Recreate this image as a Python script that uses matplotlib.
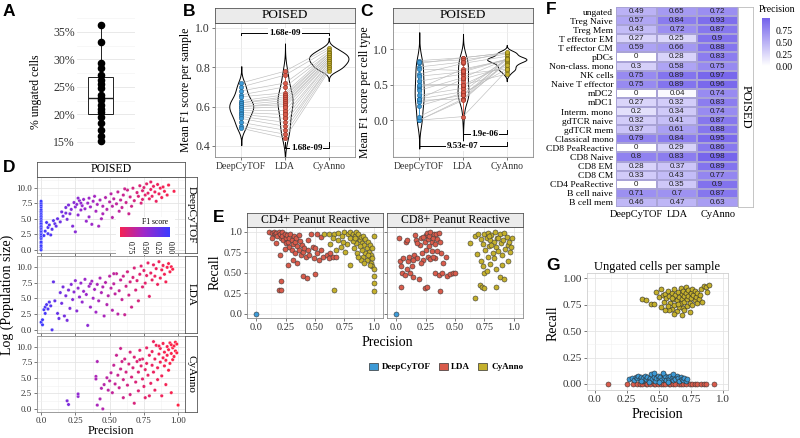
import numpy as np
import matplotlib
matplotlib.use("Agg")
import matplotlib.pyplot as plt
from matplotlib.colors import LinearSegmentedColormap
from matplotlib.patches import Patch
from matplotlib.ticker import MultipleLocator

plt.rcParams['font.family'] = ['Liberation Serif', 'DejaVu Serif']
plt.rcParams['axes.linewidth'] = 0.5

W, H = 800, 438

# ---------------- data ----------------
methods = ['DeepCyTOF', 'LDA', 'CyAnno']
method_colors = ['#3D9AD6', '#D95B4B', '#C4B02C']
method_edges = ['#1F5F8A', '#8A2E22', '#6E6210']

# A: % ungated cells per sample
ungated_pct = [36.3, 33.2, 29.3, 28.4, 27.2, 26.3, 25.5, 24.8, 23.5, 23.0,
               22.6, 21.7, 21.0, 20.5, 19.5, 18.4, 17.2, 16.0, 15.1]

# B: mean F1 per sample (paired by sample)
f1_sample_deep = [0.72, 0.70, 0.68, 0.66, 0.65, 0.63, 0.62, 0.62, 0.61, 0.60,
                  0.60, 0.59, 0.58, 0.57, 0.56, 0.55, 0.54, 0.52, 0.50, 0.49]
f1_sample_lda = [0.78, 0.76, 0.72, 0.70, 0.67, 0.66, 0.65, 0.64, 0.63, 0.62,
                 0.61, 0.60, 0.58, 0.56, 0.54, 0.52, 0.50, 0.48, 0.46, 0.44]
f1_sample_cyanno = [0.90, 0.89, 0.88, 0.87, 0.87, 0.86, 0.86, 0.85, 0.85, 0.84,
                    0.84, 0.83, 0.83, 0.82, 0.82, 0.81, 0.80, 0.80, 0.79, 0.78]

# C: mean F1 per cell type (paired by cell type)
f1_cell_deep = [0.55, 0.65, 0.45, 0.28, 0.62, 0.0, 0.30, 0.80, 0.84, 0.0, 0.25,
                0.20, 0.35, 0.42, 0.82, 0.0, 0.75, 0.30, 0.48, 0.05, 0.72, 0.50]
f1_cell_lda = [0.65, 0.80, 0.72, 0.30, 0.68, 0.30, 0.58, 0.88, 0.88, 0.05, 0.35,
               0.38, 0.45, 0.60, 0.85, 0.28, 0.82, 0.40, 0.50, 0.35, 0.70, 0.50]
f1_cell_cyanno = [0.72, 0.90, 0.85, 0.88, 0.86, 0.80, 0.75, 0.95, 0.95, 0.70, 0.80,
                  0.72, 0.85, 0.86, 0.93, 0.82, 0.96, 0.87, 0.78, 0.85, 0.86, 0.65]

pval_b_top, pval_b_bottom = '1.68e-09', '1.68e-09'
pval_c_top, pval_c_bottom = '1.9e-06', '9.53e-07'

# D: (precision, log population size, F1) per population
d_deep_zero_y = [0.0, 0.4, 0.7, 1.1, 1.3, 1.8, 2.0, 2.3, 2.6, 2.9, 3.1, 3.4, 3.6, 3.8,
                 4.1, 4.3, 4.6, 4.9, 5.2, 5.4, 5.7, 6.0, 6.2, 6.5, 6.9, 7.2, 7.5, 7.8]
d_deep = [(0.02, 2.3, 0.04), (0.03, 3.0, 0.05), (0.04, 4.4, 0.08), (0.05, 2.6, 0.09), (0.05, 3.6, 0.1),
          (0.06, 4.0, 0.11), (0.07, 2.4, 0.12), (0.08, 3.3, 0.14), (0.09, 4.7, 0.16), (0.10, 4.2, 0.18),
          (0.11, 3.8, 0.2), (0.12, 5.0, 0.22), (0.14, 4.5, 0.25), (0.15, 6.1, 0.27), (0.16, 5.4, 0.28),
          (0.18, 6.8, 0.3), (0.19, 4.9, 0.31), (0.20, 7.2, 0.33), (0.21, 5.8, 0.34), (0.22, 6.5, 0.35),
          (0.23, 3.8, 0.35), (0.24, 7.6, 0.38), (0.25, 6.9, 0.39), (0.25, 2.9, 0.38), (0.26, 7.3, 0.4),
          (0.27, 5.6, 0.41), (0.28, 7.9, 0.42), (0.29, 6.4, 0.43), (0.30, 7.1, 0.44), (0.31, 8.1, 0.46),
          (0.32, 6.6, 0.46), (0.33, 4.6, 0.45), (0.34, 7.5, 0.48), (0.35, 8.3, 0.49), (0.36, 6.9, 0.5),
          (0.37, 4.1, 0.48), (0.38, 7.8, 0.52), (0.40, 6.2, 0.53), (0.41, 7.3, 0.55), (0.42, 3.8, 0.52),
          (0.43, 8.0, 0.56), (0.44, 5.0, 0.55), (0.45, 7.0, 0.58), (0.47, 8.4, 0.6), (0.48, 6.5, 0.6),
          (0.50, 7.7, 0.62), (0.51, 9.0, 0.63), (0.52, 5.2, 0.62), (0.53, 8.2, 0.65), (0.55, 7.4, 0.66),
          (0.56, 9.3, 0.68), (0.58, 8.0, 0.69), (0.59, 6.8, 0.69), (0.60, 8.8, 0.71), (0.62, 7.6, 0.72),
          (0.63, 9.6, 0.74), (0.64, 5.8, 0.72), (0.65, 8.5, 0.75), (0.67, 9.9, 0.77), (0.68, 7.9, 0.77),
          (0.70, 9.2, 0.79), (0.71, 8.6, 0.8), (0.72, 10.3, 0.81), (0.73, 7.5, 0.8), (0.74, 9.5, 0.82),
          (0.75, 10.0, 0.83), (0.76, 8.8, 0.84), (0.77, 10.6, 0.85), (0.78, 9.1, 0.85), (0.79, 8.2, 0.86),
          (0.80, 10.9, 0.87), (0.80, 9.7, 0.88), (0.81, 8.6, 0.88), (0.82, 10.2, 0.89), (0.83, 9.3, 0.9),
          (0.84, 7.8, 0.89), (0.85, 10.5, 0.91), (0.86, 9.0, 0.91), (0.87, 9.9, 0.92), (0.88, 8.4, 0.92),
          (0.89, 10.1, 0.93), (0.90, 9.4, 0.94), (0.92, 8.8, 0.94), (0.93, 10.4, 0.95), (0.97, 9.4, 0.96),
          (0.45, 5.8, 0.56), (0.35, 5.3, 0.46), (0.57, 6.2, 0.66), (0.66, 7.0, 0.74), (0.29, 7.5, 0.43),
          (0.39, 8.6, 0.52), (0.61, 9.8, 0.72), (0.52, 7.0, 0.63), (0.18, 5.9, 0.3), (0.27, 8.3, 0.41),
          (0.74, 8.1, 0.81)]
d_lda = [(0.00, 1.2, 0.02), (0.01, 0.8, 0.03), (0.01, 1.6, 0.04), (0.02, 3.2, 0.06), (0.03, 3.6, 0.08),
         (0.03, 2.6, 0.07), (0.04, 4.0, 0.1), (0.05, 3.3, 0.11), (0.06, 4.4, 0.13), (0.07, 3.8, 0.14),
         (0.08, 0.0, 0.12), (0.09, 7.6, 0.2), (0.10, 4.6, 0.2), (0.12, 2.6, 0.21), (0.13, 1.8, 0.22),
         (0.14, 5.9, 0.26), (0.15, 4.2, 0.26), (0.16, 6.8, 0.3), (0.17, 2.2, 0.28), (0.18, 5.4, 0.31),
         (0.19, 1.5, 0.3), (0.20, 6.3, 0.33), (0.21, 3.4, 0.33), (0.22, 7.2, 0.36), (0.23, 4.8, 0.36),
         (0.24, 6.0, 0.38), (0.25, 7.8, 0.4), (0.26, 3.0, 0.38), (0.27, 6.6, 0.42), (0.28, 5.2, 0.42),
         (0.29, 7.4, 0.44), (0.30, 4.4, 0.43), (0.31, 6.1, 0.46), (0.32, 8.0, 0.48), (0.33, 5.6, 0.47),
         (0.34, 0.7, 0.4), (0.35, 6.9, 0.5), (0.36, 3.6, 0.48), (0.37, 7.7, 0.52), (0.38, 5.0, 0.51),
         (0.39, 6.4, 0.53), (0.40, 2.8, 0.5), (0.41, 7.2, 0.55), (0.42, 4.6, 0.54), (0.43, 8.2, 0.57),
         (0.44, 5.9, 0.57), (0.45, 6.8, 0.59), (0.46, 2.2, 0.55), (0.47, 7.5, 0.61), (0.48, 4.0, 0.59),
         (0.49, 5.4, 0.61), (0.50, 8.5, 0.64), (0.51, 6.6, 0.64), (0.52, 3.1, 0.6), (0.53, 7.3, 0.66),
         (0.54, 5.7, 0.66), (0.55, 8.9, 0.69), (0.56, 2.5, 0.63), (0.57, 6.2, 0.69), (0.58, 7.9, 0.71),
         (0.59, 4.8, 0.69), (0.60, 8.5, 0.73), (0.62, 6.9, 0.74), (0.63, 9.2, 0.76), (0.64, 5.5, 0.74),
         (0.65, 7.6, 0.77), (0.66, 3.6, 0.74), (0.67, 8.3, 0.79), (0.68, 9.8, 0.8), (0.69, 6.3, 0.79),
         (0.70, 7.8, 0.81), (0.72, 8.8, 0.83), (0.73, 10.1, 0.84), (0.74, 6.8, 0.83), (0.75, 9.4, 0.85),
         (0.76, 7.4, 0.85), (0.77, 8.6, 0.86), (0.78, 10.6, 0.87), (0.79, 5.3, 0.85), (0.80, 9.0, 0.88),
         (0.81, 7.9, 0.88), (0.82, 10.3, 0.89), (0.83, 8.5, 0.9), (0.84, 9.7, 0.9), (0.85, 7.2, 0.9),
         (0.86, 10.8, 0.92), (0.87, 8.2, 0.92), (0.88, 9.5, 0.93), (0.89, 10.2, 0.93), (0.90, 8.8, 0.94),
         (0.91, 7.6, 0.94), (0.92, 9.9, 0.95), (0.93, 10.5, 0.95), (0.94, 9.2, 0.96), (0.95, 10.0, 0.96),
         (0.96, 9.6, 0.97), (0.71, 4.6, 0.78), (0.61, 2.4, 0.7), (0.53, 8.9, 0.66), (0.36, 7.3, 0.5)]
d_cyanno = [(0.19, 1.3, 0.33), (0.20, 0.7, 0.33), (0.27, 2.0, 0.42), (0.27, 2.4, 0.42), (0.40, 5.2, 0.56),
            (0.40, 4.8, 0.56), (0.41, 7.6, 0.57), (0.41, 0.6, 0.55), (0.43, 1.6, 0.58), (0.45, 0.0, 0.6),
            (0.44, 3.3, 0.59), (0.46, 3.9, 0.62), (0.48, 5.0, 0.64), (0.49, 3.0, 0.64), (0.50, 4.5, 0.66),
            (0.51, 5.8, 0.67), (0.52, 2.6, 0.67), (0.53, 7.0, 0.69), (0.54, 4.0, 0.69), (0.55, 8.6, 0.71),
            (0.56, 5.4, 0.71), (0.57, 3.4, 0.71), (0.58, 6.4, 0.73), (0.59, 7.6, 0.74), (0.60, 1.8, 0.73),
            (0.60, 4.7, 0.74), (0.61, 8.0, 0.76), (0.62, 5.9, 0.76), (0.63, 3.8, 0.76), (0.64, 7.2, 0.78),
            (0.65, 2.3, 0.76), (0.65, 9.1, 0.79), (0.66, 5.1, 0.79), (0.67, 6.6, 0.8), (0.68, 8.3, 0.81),
            (0.69, 4.3, 0.8), (0.70, 7.6, 0.82), (0.71, 2.9, 0.81), (0.71, 5.9, 0.82), (0.72, 9.4, 0.84),
            (0.73, 6.9, 0.84), (0.74, 4.8, 0.84), (0.74, 8.0, 0.85), (0.75, 3.6, 0.84), (0.76, 6.3, 0.86),
            (0.77, 9.8, 0.87), (0.77, 7.3, 0.87), (0.78, 5.4, 0.87), (0.79, 8.6, 0.88), (0.79, 2.1, 0.86),
            (0.80, 4.1, 0.88), (0.81, 7.0, 0.89), (0.81, 9.2, 0.9), (0.82, 5.9, 0.9), (0.83, 8.0, 0.91),
            (0.83, 3.0, 0.89), (0.84, 10.2, 0.92), (0.85, 6.6, 0.92), (0.85, 4.7, 0.91), (0.86, 8.8, 0.93),
            (0.87, 7.5, 0.93), (0.87, 9.7, 0.94), (0.88, 5.3, 0.93), (0.89, 8.2, 0.94), (0.89, 10.5, 0.95),
            (0.90, 6.9, 0.95), (0.90, 9.1, 0.95), (0.91, 7.8, 0.95), (0.91, 3.9, 0.94), (0.92, 10.0, 0.96),
            (0.92, 8.6, 0.96), (0.93, 6.2, 0.96), (0.93, 9.5, 0.97), (0.94, 10.6, 0.97), (0.94, 7.3, 0.97),
            (0.95, 8.9, 0.97), (0.95, 10.3, 0.98), (0.96, 9.8, 0.98), (0.96, 7.9, 0.98), (0.97, 10.1, 0.99),
            (0.97, 8.4, 0.98), (0.98, 10.7, 0.99), (0.98, 9.3, 0.99), (0.99, 10.4, 0.99), (0.99, 9.0, 0.99),
            (0.95, 2.6, 0.96), (1.00, 0.6, 1.0), (0.88, 2.1, 0.92), (0.76, 1.8, 0.85), (0.68, 0.9, 0.79),
            (0.58, 9.7, 0.72), (0.82, 10.8, 0.9), (0.86, 10.1, 0.93), (0.72, 7.9, 0.83)]

# E: (precision, recall) per sample for peanut reactive populations
e_titles = ['CD4+ Peanut Reactive', 'CD8+ Peanut Reactive']
e_deep = [[(0.0, 0.0)], [(0.0, 0.0)]]
e_lda_cd4 = [(0.11, 1.0), (0.13, 0.99), (0.15, 1.0), (0.16, 0.97), (0.17, 0.99), (0.18, 0.95), (0.19, 1.0),
             (0.20, 0.97), (0.21, 0.93), (0.22, 1.0), (0.22, 0.95), (0.23, 0.9), (0.24, 0.98), (0.25, 0.92),
             (0.25, 0.86), (0.26, 0.96), (0.27, 0.88), (0.28, 0.93), (0.28, 0.82), (0.29, 0.97), (0.30, 0.9),
             (0.30, 0.78), (0.31, 0.85), (0.32, 0.95), (0.33, 0.88), (0.33, 0.74), (0.34, 0.92), (0.35, 0.83),
             (0.36, 0.78), (0.37, 0.89), (0.38, 0.72), (0.39, 0.84), (0.40, 0.76), (0.41, 0.8), (0.42, 0.7),
             (0.44, 0.78), (0.45, 0.72), (0.47, 0.98), (0.48, 0.82), (0.49, 0.68), (0.50, 0.8), (0.52, 0.74),
             (0.53, 0.66), (0.55, 0.78), (0.57, 0.7), (0.60, 0.72), (0.63, 0.74), (0.62, 0.68), (0.65, 0.7),
             (0.68, 0.69), (0.20, 0.72), (0.27, 0.6), (0.35, 0.62), (0.19, 0.29), (0.21, 0.29), (0.21, 0.4),
             (0.40, 0.46), (0.43, 0.44), (0.50, 0.49), (0.17, 0.86), (0.13, 0.93), (0.24, 0.79), (0.31, 0.66),
             (0.36, 0.96), (0.44, 0.9), (0.52, 0.97), (0.55, 0.94)]
e_cyanno_cd4 = [(0.58, 0.97), (0.62, 0.98), (0.66, 0.97), (0.70, 0.99), (0.75, 1.0), (0.78, 0.97), (0.80, 1.0),
                (0.82, 0.98), (0.84, 0.95), (0.85, 1.0), (0.86, 0.93), (0.87, 0.97), (0.88, 0.9), (0.89, 0.94),
                (0.90, 0.87), (0.91, 0.95), (0.92, 0.84), (0.93, 0.91), (0.94, 0.8), (0.95, 0.88), (0.96, 0.76),
                (0.97, 0.84), (0.98, 0.72), (0.99, 0.8), (1.0, 0.95), (0.96, 0.68), (0.93, 0.74), (0.90, 0.78),
                (0.88, 0.83), (0.85, 0.86), (0.82, 0.89), (0.80, 0.92), (0.77, 0.85), (0.74, 0.88), (0.72, 0.82),
                (0.70, 0.9), (0.68, 0.78), (0.65, 0.93), (0.63, 0.85), (0.98, 0.62), (0.99, 0.58), (1.0, 0.55),
                (0.97, 0.6), (0.94, 0.66), (0.91, 0.7), (0.95, 0.72), (0.89, 0.66), (0.86, 0.74), (0.80, 0.6),
                (0.66, 0.29), (1.0, 0.28), (1.0, 0.38), (1.0, 0.46), (0.83, 0.8), (0.87, 0.7), (0.92, 0.62),
                (0.99, 0.68), (0.76, 0.76), (0.84, 0.93), (0.73, 0.95)]
e_lda_cd8 = [(0.02, 0.92), (0.03, 0.65), (0.04, 0.58), (0.05, 0.5), (0.04, 0.33), (0.06, 0.68), (0.07, 0.47),
             (0.08, 0.88), (0.09, 0.9), (0.10, 0.65), (0.11, 0.7), (0.12, 0.5), (0.13, 0.58), (0.14, 0.45),
             (0.15, 0.72), (0.16, 0.96), (0.17, 0.9), (0.18, 0.68), (0.19, 0.43), (0.20, 0.84), (0.21, 0.92),
             (0.22, 0.74), (0.23, 0.66), (0.24, 0.88), (0.25, 0.96), (0.26, 0.99), (0.27, 0.91), (0.27, 0.7),
             (0.28, 0.95), (0.29, 1.0), (0.30, 0.88), (0.30, 0.77), (0.31, 0.93), (0.32, 0.98), (0.33, 0.85),
             (0.33, 0.68), (0.34, 0.97), (0.35, 0.91), (0.36, 0.99), (0.37, 0.88), (0.38, 0.74), (0.29, 0.67),
             (0.25, 0.78), (0.21, 0.62), (0.33, 0.5), (0.36, 0.47), (0.39, 0.5), (0.43, 0.46), (0.46, 0.49),
             (0.48, 0.5), (0.50, 0.5), (0.42, 0.69), (0.40, 0.62), (0.24, 0.31), (0.26, 0.33), (0.37, 0.28),
             (0.14, 0.66), (0.09, 0.55), (0.18, 0.86), (0.23, 0.94), (0.31, 0.7), (0.28, 0.83), (0.35, 0.77)]
e_cyanno_cd8 = [(0.63, 0.87), (0.67, 0.95), (0.70, 0.98), (0.72, 0.91), (0.74, 0.85), (0.75, 0.97), (0.76, 0.78),
                (0.77, 0.93), (0.78, 0.99), (0.79, 0.83), (0.80, 0.9), (0.81, 0.96), (0.82, 0.74), (0.83, 0.88),
                (0.84, 1.0), (0.85, 0.81), (0.86, 0.93), (0.87, 0.77), (0.88, 0.97), (0.89, 0.86), (0.90, 0.72),
                (0.91, 0.9), (0.92, 0.99), (0.93, 0.79), (0.94, 0.94), (0.95, 0.84), (0.96, 0.88), (0.97, 0.76),
                (0.99, 0.93), (0.98, 0.82), (0.72, 0.64), (0.74, 0.58), (0.75, 0.5), (0.77, 0.52), (0.80, 0.61),
                (0.85, 0.55), (0.88, 0.45), (0.92, 0.42), (0.95, 0.65), (0.71, 0.35), (0.73, 0.33), (0.75, 0.32),
                (0.85, 0.33), (0.67, 0.2), (0.78, 0.7), (0.83, 0.68), (0.90, 0.6), (0.87, 0.92), (0.81, 0.84),
                (0.79, 0.95), (0.69, 0.73)]

# F: precision per cell type
cell_types = ['ungated', 'Treg Naive', 'Treg Mem', 'T effector EM', 'T effector CM', 'pDCs',
              'Non-class. mono', 'NK cells', 'Naive T effector', 'mDC2', 'mDC1', 'Interm. mono',
              'gdTCR naive', 'gdTCR mem', 'Classical mono', 'CD8 PeaReactive', 'CD8 Naive',
              'CD8 EM', 'CD8 CM', 'CD4 PeaRective', 'B cell naive', 'B cell mem']
prec_deep = [0.49, 0.57, 0.43, 0.27, 0.59, 0, 0.3, 0.75, 0.75, 0, 0.27, 0.2, 0.32, 0.37,
             0.79, 0, 0.8, 0.28, 0.33, 0, 0.71, 0.46]
prec_lda = [0.65, 0.84, 0.72, 0.25, 0.66, 0.28, 0.58, 0.89, 0.89, 0.04, 0.32, 0.34, 0.41, 0.61,
            0.84, 0.29, 0.83, 0.37, 0.43, 0.35, 0.7, 0.47]
prec_cyanno = [0.72, 0.93, 0.87, 0.9, 0.88, 0.83, 0.75, 0.97, 0.96, 0.74, 0.83, 0.74, 0.87, 0.88,
               0.95, 0.86, 0.98, 0.89, 0.77, 0.9, 0.87, 0.63]

# G: ungated cells per sample (precision, recall)
g_cyanno = [(0.37, 0.8), (0.40, 0.79), (0.44, 0.76), (0.46, 0.76), (0.48, 0.87), (0.50, 0.82), (0.52, 0.9),
            (0.53, 0.84), (0.54, 0.78), (0.55, 0.85), (0.56, 0.81), (0.57, 0.88), (0.58, 0.83), (0.59, 0.77),
            (0.60, 0.86), (0.60, 0.71), (0.61, 0.8), (0.62, 0.9), (0.62, 0.75), (0.63, 0.84), (0.64, 0.79),
            (0.64, 0.69), (0.65, 0.87), (0.66, 0.82), (0.66, 0.73), (0.67, 0.91), (0.67, 0.77), (0.68, 0.85),
            (0.68, 0.8), (0.69, 0.88), (0.69, 0.72), (0.70, 0.83), (0.70, 0.78), (0.71, 0.92), (0.71, 0.86),
            (0.72, 0.8), (0.72, 0.74), (0.73, 0.89), (0.73, 0.83), (0.74, 0.77), (0.74, 0.68), (0.75, 0.86),
            (0.75, 0.81), (0.76, 0.9), (0.76, 0.75), (0.77, 0.84), (0.78, 0.79), (0.78, 0.88), (0.79, 0.82),
            (0.80, 0.77), (0.80, 0.86), (0.81, 0.8), (0.82, 0.84), (0.83, 0.9), (0.84, 0.78), (0.85, 0.93),
            (0.87, 0.92), (0.89, 0.94), (0.88, 0.87), (0.62, 0.66), (0.58, 0.7), (0.55, 0.7), (0.70, 0.7),
            (0.65, 0.76), (0.60, 0.81), (0.68, 0.65), (0.57, 0.74), (0.52, 0.73)]
g_deep = [(0.27, 0.05), (0.29, 0.06), (0.31, 0.04), (0.32, 0.07), (0.33, 0.06), (0.34, 0.08), (0.35, 0.05),
          (0.36, 0.07), (0.37, 0.03), (0.38, 0.06), (0.39, 0.08), (0.40, 0.05), (0.41, 0.07), (0.42, 0.04),
          (0.43, 0.06), (0.44, 0.09), (0.45, 0.05), (0.46, 0.07), (0.47, 0.03), (0.48, 0.06), (0.49, 0.08),
          (0.50, 0.05), (0.51, 0.07), (0.52, 0.04), (0.53, 0.09), (0.54, 0.06), (0.55, 0.08), (0.56, 0.04),
          (0.57, 0.07), (0.58, 0.05), (0.59, 0.08), (0.60, 0.06), (0.61, 0.04), (0.62, 0.07), (0.63, 0.05),
          (0.64, 0.08), (0.65, 0.06), (0.66, 0.03), (0.67, 0.07), (0.68, 0.05), (0.69, 0.04), (0.70, 0.06),
          (0.71, 0.03), (0.72, 0.05), (0.42, 0.02), (0.50, 0.02), (0.57, 0.02), (0.36, 0.03), (0.46, 0.1),
          (0.53, 0.1), (0.61, 0.09)]
g_lda_prec = [0.10, 0.25, 0.30, 0.33, 0.35, 0.37, 0.40, 0.41, 0.43, 0.46, 0.47, 0.49, 0.52, 0.53,
              0.55, 0.58, 0.59, 0.61, 0.63, 0.66, 0.67, 0.69, 0.71, 0.74, 0.76, 0.78, 0.80, 0.83,
              0.85, 0.87, 0.93]
g_lda_recall = [0.0] * len(g_lda_prec)

# ---------------- helpers ----------------
fig = plt.figure(figsize=(8, 4.38), dpi=100)


def box(x0, y0, x1, y1):
    return [x0 / W, 1 - y1 / H, (x1 - x0) / W, (y1 - y0) / H]


def ftext(x, y, s, **kw):
    return fig.text(x / W, 1 - y / H, s, **kw)


def style(ax, tick_size=7.5, minor=True, border='#8C8C8C'):
    ax.set_facecolor('white')
    ax.grid(True, which='major', color='#E3E3E3', lw=0.55)
    if minor:
        ax.grid(True, which='minor', color='#F1F1F1', lw=0.4)
    ax.set_axisbelow(True)
    for s in ax.spines.values():
        s.set_color(border)
        s.set_linewidth(0.6)
    ax.tick_params(which='major', length=2, width=0.5, color='#444444',
                   labelsize=tick_size, pad=1.5, labelcolor='#333333')
    ax.tick_params(which='minor', length=0)


def strip(x0, y0, x1, y1, label, rot=0, fc='#EBEBEB', size=8.5, ec='#555555'):
    s = fig.add_axes(box(x0, y0, x1, y1))
    s.set_facecolor(fc)
    s.set_xticks([])
    s.set_yticks([])
    for sp in s.spines.values():
        sp.set_color(ec)
        sp.set_linewidth(0.6)
    s.text(0.5, 0.5, label, rotation=rot, ha='center', va='center',
           fontsize=size, transform=s.transAxes)
    return s


def kde(vals, grid):
    v = np.asarray(vals, dtype=float)
    iqr = np.subtract(*np.percentile(v, [75, 25]))
    bw = 0.9 * min(v.std(ddof=1), iqr / 1.34) * len(v) ** -0.2
    d = np.exp(-0.5 * ((grid[:, None] - v[None, :]) / bw) ** 2).sum(1)
    return d / (len(v) * bw * np.sqrt(2 * np.pi)), bw


def violin_panel(ax, groups):
    shapes = []
    for vals in groups:
        v = np.asarray(vals, dtype=float)
        _, bw = kde(v, v[:1])
        grid = np.linspace(v.min() - 3 * bw, v.max() + 3 * bw, 200)
        d, _ = kde(v, grid)
        shapes.append((grid, d))
    dmax = max(d.max() for _, d in shapes)
    for i, (grid, d) in enumerate(shapes):
        hw = d / dmax * 0.45
        ax.fill_betweenx(grid, i - hw, i + hw, facecolor='white',
                         edgecolor='black', lw=0.7, zorder=2)
    for j in range(len(groups[0])):
        ax.plot([0, 1, 2], [g[j] for g in groups], color='#BDBDBD', lw=0.45, zorder=3)
    for i, vals in enumerate(groups):
        c = method_colors[i]
        ax.boxplot(vals, positions=[i], widths=0.07, patch_artist=True, showfliers=False,
                   boxprops=dict(facecolor='white', edgecolor=c, lw=0.7),
                   whiskerprops=dict(color=c, lw=0.7), capprops=dict(lw=0),
                   medianprops=dict(color=c, lw=0.9), zorder=4)
        ax.scatter(np.full(len(vals), i), vals, s=9, c=c, edgecolors=method_edges[i],
                   linewidths=0.4, zorder=5)
    ax.set_xticks([0, 1, 2])
    ax.set_xticklabels(methods, fontsize=7)
    ax.set_xlim(-0.6, 2.6)


def bracket(ax, x0, x1, y, tick, label):
    ax.plot([x0, x0, x1, x1], [y + tick, y, y, y + tick], color='black', lw=0.7, zorder=6)
    ax.text((x0 + x1) / 2, y, label, ha='center', va='center', fontsize=6.5,
            fontweight='bold', zorder=7,
            bbox=dict(facecolor='white', edgecolor='none', pad=0.6))


def letter(x, y, s):
    ftext(x, y, s, fontsize=12.5, fontweight='bold', family='Liberation Sans',
          ha='left', va='center')


# ---------------- A ----------------
axA = fig.add_axes(box(77, 18, 135, 150))
style(axA, tick_size=8.5)
for s in axA.spines.values():
    s.set_visible(False)
axA.boxplot(ungated_pct, positions=[1], widths=0.43, patch_artist=True, showfliers=False,
            boxprops=dict(facecolor='white', edgecolor='#222222', lw=0.7),
            whiskerprops=dict(color='#222222', lw=0.7), capprops=dict(lw=0),
            medianprops=dict(color='#222222', lw=1.0))
axA.scatter(np.ones(len(ungated_pct)), ungated_pct, s=20, c='black', zorder=5)
axA.set_xlim(0.59, 1.59)
axA.set_ylim(13.5, 37.5)
axA.set_yticks([15, 20, 25, 30, 35])
axA.set_yticklabels(['15%', '20%', '25%', '30%', '35%'])
axA.yaxis.set_minor_locator(MultipleLocator(2.5))
axA.set_xticks([])
axA.xaxis.grid(False, which='both')
axA.tick_params(axis='y', length=0)
ftext(36, 92, '% ungated cells', rotation=90, ha='center', va='center', fontsize=8.5)
letter(3, 12, 'A')

# ---------------- B ----------------
axB = fig.add_axes(box(215, 23, 355, 157))
style(axB, tick_size=8.5)
violin_panel(axB, [f1_sample_deep, f1_sample_lda, f1_sample_cyanno])
axB.set_ylim(0.344, 1.025)
axB.set_yticks([0.4, 0.6, 0.8, 1.0])
axB.yaxis.set_minor_locator(MultipleLocator(0.1))
bracket(axB, 0, 2, 0.975, -0.012, pval_b_top)
bracket(axB, 1, 2, 0.392, 0.03, pval_b_bottom)
strip(215, 8, 355, 23, 'POISED', size=9.5)
ftext(186, 90, 'Mean F1 score per sample', rotation=90, ha='center', va='center', fontsize=8.5)
letter(183, 11, 'B')

# ---------------- C ----------------
axC = fig.add_axes(box(393, 23, 533, 157))
style(axC, tick_size=8.5)
violin_panel(axC, [f1_cell_deep, f1_cell_lda, f1_cell_cyanno])
axC.set_ylim(-0.52, 1.37)
axC.set_yticks([0.0, 0.5, 1.0])
axC.yaxis.set_minor_locator(MultipleLocator(0.25))
bracket(axC, 1, 2, -0.2, 0.06, pval_c_top)
bracket(axC, 0, 2, -0.37, 0.06, pval_c_bottom)
strip(393, 8, 533, 23, 'POISED', size=9.5)
ftext(365, 92, 'Mean F1 score per cell type', rotation=90, ha='center', va='center', fontsize=8.5)
letter(360, 11, 'C')

# ---------------- D ----------------
f1_cmap = LinearSegmentedColormap.from_list('f1', ['#3B3BFF', '#A128C8', '#FF2244'])
d_facets = [('DeepCyTOF', d_deep, (177, 253)), ('LDA', d_lda, (256, 333)),
            ('CyAnno', d_cyanno, (336, 412))]
for k, (name, pts, (y0, y1)) in enumerate(d_facets):
    ax = fig.add_axes(box(37, y0, 185, y1))
    style(ax, tick_size=6.5)
    px = [p[0] for p in pts]
    py = [p[1] for p in pts]
    pf = [p[2] for p in pts]
    if name == 'DeepCyTOF':
        px = [0.0] * len(d_deep_zero_y) + px
        py = d_deep_zero_y + py
        pf = [0.0] * len(d_deep_zero_y) + pf
    ax.scatter(px, py, c=pf, cmap=f1_cmap, vmin=0, vmax=1, s=6,
               edgecolors='white', linewidths=0.2, zorder=3)
    ax.set_xlim(-0.03, 1.05)
    ax.set_ylim(-0.5, 11.7)
    ax.set_xticks([0, 0.25, 0.5, 0.75, 1.0])
    ax.set_yticks([0, 2.5, 5, 7.5, 10])
    ax.set_yticklabels(['0.0', '2.5', '5.0', '7.5', '10.0'])
    ax.xaxis.set_minor_locator(MultipleLocator(0.125))
    ax.yaxis.set_minor_locator(MultipleLocator(1.25))
    if k < 2:
        ax.set_xticklabels([])
    else:
        ax.set_xticklabels(['0.0', '0.25', '0.50', '0.75', '1.00'])
    strip(185, y0, 197, y1, name, rot=270, fc='white', size=8)
strip(37, 162, 185, 177, 'POISED', fc='white', size=8.5)
# F1 colour legend inside the top facet
bg = fig.add_axes(box(116, 217, 175, 255))
bg.set_facecolor('white')
bg.set_xticks([])
bg.set_yticks([])
for s in bg.spines.values():
    s.set_visible(False)
cb = fig.add_axes(box(120, 227, 170, 237))
cb.imshow(np.linspace(0, 1, 100)[None, :], cmap=f1_cmap, aspect='auto',
          extent=[0, 1, 0, 1], vmin=0, vmax=1)
cb.set_xlim(0.94, 0.0)
cb.set_yticks([])
cb.set_xticks([0.75, 0.5, 0.25, 0.0])
cb.set_xticklabels(['0.75', '0.50', '0.25', '0.00'], rotation=270, fontsize=5.5)
cb.tick_params(length=2, width=0.4, color='white', pad=1)
for s in cb.spines.values():
    s.set_visible(False)
ftext(155, 222, 'F1 score', fontsize=5.5, ha='center', va='center')
ftext(7, 295, 'Log (Population size)', rotation=90, ha='center', va='center', fontsize=10)
ftext(111, 431, 'Precision', ha='center', va='center', fontsize=9)
letter(3, 168, 'D')

# ---------------- E ----------------
e_sets = [(e_lda_cd4, e_cyanno_cd4), (e_lda_cd8, e_cyanno_cd8)]
for k, (lda_pts, cy_pts) in enumerate(e_sets):
    x0 = 247 + k * 140
    ax = fig.add_axes(box(x0, 227, x0 + 136, 318))
    style(ax, tick_size=7.5)
    for pts, ci in [(e_deep[k], 0), (lda_pts, 1), (cy_pts, 2)]:
        ax.scatter([p[0] for p in pts], [p[1] for p in pts], s=13, c=method_colors[ci],
                   edgecolors='#3A3A3A', linewidths=0.4, zorder=3)
    ax.set_xlim(-0.08, 1.08)
    ax.set_ylim(-0.05, 1.06)
    ax.set_xticks([0, 0.25, 0.5, 0.75, 1.0])
    ax.set_xticklabels(['0.0', '0.25', '0.50', '0.75', '1.0'])
    ax.set_yticks([0, 0.25, 0.5, 0.75, 1.0])
    ax.xaxis.set_minor_locator(MultipleLocator(0.125))
    ax.yaxis.set_minor_locator(MultipleLocator(0.125))
    if k == 0:
        ax.set_yticklabels(['0.0', '0.25', '0.50', '0.75', '1.0'])
    else:
        ax.set_yticklabels([])
    strip(x0, 213, x0 + 136, 227, e_titles[k], size=8.5)
ftext(215, 272, 'Recall', rotation=90, ha='center', va='center', fontsize=10)
ftext(387, 343, 'Precision', ha='center', va='center', fontsize=10)
handles = [Patch(facecolor=c, edgecolor='#333333', lw=0.5) for c in method_colors]
leg = fig.legend(handles, methods, loc='center', bbox_to_anchor=(446 / W, 1 - 367 / H),
                 ncol=3, frameon=False, fontsize=6.5, handlelength=1.0, handleheight=0.8,
                 handletextpad=0.4, columnspacing=0.9)
for t in leg.get_texts():
    t.set_fontweight('bold')
letter(213, 218, 'E')

# ---------------- F ----------------
prec_cmap = LinearSegmentedColormap.from_list('prec', ['#FFFFFF', '#7766EC'])
prec_table = np.array([prec_deep, prec_lda, prec_cyanno]).T
axF = fig.add_axes(box(616, 7, 738, 207))
axF.pcolormesh(np.arange(4), np.arange(len(cell_types) + 1), prec_table, cmap=prec_cmap,
               vmin=0, vmax=0.98, edgecolors='#A9A3D6', linewidth=0.3)
axF.set_xlim(0, 3)
axF.set_ylim(len(cell_types), 0)
for i in range(len(cell_types)):
    for j in range(3):
        axF.text(j + 0.5, i + 0.5, f'{prec_table[i, j]:g}', ha='center', va='center',
                 fontsize=5.8, family='Liberation Sans', color='#222222')
axF.set_yticks(np.arange(len(cell_types)) + 0.5)
axF.set_yticklabels(cell_types, fontsize=6.8)
axF.set_xticks([0.5, 1.5, 2.5])
axF.set_xticklabels(methods, fontsize=7.5)
axF.tick_params(length=0, pad=2)
for s in axF.spines.values():
    s.set_visible(False)
strip(738, 7, 753, 207, 'POISED', rot=270, fc='white', size=9, ec='#BBBBBB')
pcb = fig.add_axes(box(762, 18, 770, 66))
pcb.imshow(np.linspace(0, 1, 100)[:, None], cmap=prec_cmap, aspect='auto', origin='lower',
           extent=[0, 1, 0, 1], vmin=0, vmax=0.98)
pcb.set_xticks([])
pcb.yaxis.tick_right()
pcb.set_yticks([0, 0.25, 0.5, 0.75])
pcb.set_yticklabels(['0.00', '0.25', '0.50', '0.75'], fontsize=7)
pcb.tick_params(length=2, width=0.4, color='white', pad=2)
for s in pcb.spines.values():
    s.set_visible(False)
ftext(759, 10, 'Precision', fontsize=7, ha='left', va='center')
letter(546, 10, 'F')

# ---------------- G ----------------
axG = fig.add_axes(box(587, 273, 728, 390))
style(axG, tick_size=8, border='#CFCFCF')
axG.scatter(g_lda_prec, g_lda_recall, s=13, c=method_colors[1], edgecolors='#3A3A3A',
            linewidths=0.4, zorder=3)
axG.scatter([p[0] for p in g_deep], [p[1] for p in g_deep], s=13, c=method_colors[0],
            edgecolors='#2A2A2A', linewidths=0.4, zorder=3)
axG.scatter([p[0] for p in g_cyanno], [p[1] for p in g_cyanno], s=13, c=method_colors[2],
            edgecolors='#2A2A2A', linewidths=0.4, zorder=3)
axG.set_xlim(-0.06, 1.04)
axG.set_ylim(-0.057, 1.05)
axG.set_xticks([0, 0.25, 0.5, 0.75, 1.0])
axG.set_xticklabels(['0.0', '0.25', '0.50', '0.75', '1.0'])
axG.set_yticks([0, 0.25, 0.5, 0.75, 1.0])
axG.set_yticklabels(['0.00', '0.25', '0.50', '0.75', '1.00'])
axG.xaxis.set_minor_locator(MultipleLocator(0.125))
axG.yaxis.set_minor_locator(MultipleLocator(0.125))
axG.set_title('Ungated cells per sample', fontsize=9, pad=2)
ftext(553, 323, 'Recall', rotation=90, ha='center', va='center', fontsize=10)
ftext(657, 414, 'Precision', ha='center', va='center', fontsize=10)
letter(546, 265, 'G')

fig.savefig('out.png', dpi=100)
